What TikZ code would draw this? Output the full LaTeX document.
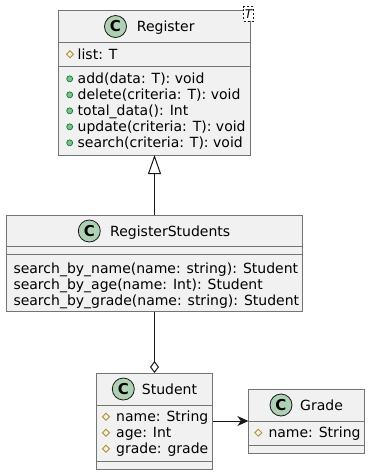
\documentclass[tikz,border=0pt]{standalone}
\usepackage{fontspec}
\setmainfont{DejaVu Sans}
\usetikzlibrary{arrows.meta}

\definecolor{boxfill}{HTML}{F1F1F1}
\definecolor{boxline}{HTML}{181818}
\definecolor{spotfill}{HTML}{ADD1B2}
\definecolor{protcol}{HTML}{B38D22}
\definecolor{pubfill}{HTML}{84BE84}
\definecolor{publine}{HTML}{038048}

\begin{document}
\begin{tikzpicture}[x=1pt, y=-1pt,
		classbox/.style={rectangle, draw=boxline!60, line width=0.7pt, fill=boxfill, inner sep=0pt, outer sep=0pt},
		divider/.style={draw=boxline!60, line width=0.7pt},
		spot/.style={circle, draw=boxline, line width=0.8pt, fill=spotfill, minimum size=22pt, inner sep=0pt, font=\fontsize{15}{15}\selectfont\bfseries},
		classname/.style={anchor=base west, inner sep=0pt, font=\fontsize{14}{16}\selectfont},
		member/.style={anchor=base west, inner sep=0pt, font=\fontsize{14}{16}\selectfont},
		typeparam/.style={rectangle, draw=boxline, dashed, dash pattern=on 2pt off 2pt, line width=0.5pt, fill=white, inner sep=0pt, minimum width=9.6pt, minimum height=14.3pt, font=\fontsize{12}{12}\selectfont\itshape},
		link/.style={draw=boxline, line width=1pt},
		prot/.pic={\draw[protcol, line width=0.8pt] (0,-3.5) -- (3.5,0) -- (0,3.5) -- (-3.5,0) -- cycle;},
		pub/.pic={\draw[publine, fill=pubfill, line width=0.7pt] (0,0) circle (3pt);}
	]
		\path[fill=white, use as bounding box] (0,0) rectangle (370,475);
		
		% Register
		\node[classbox, minimum width=192.4pt, minimum height=145pt] (reg) at (154.5,82.5) {};
		\draw[divider] (58.3,42.3) -- (250.7,42.3);
		\draw[divider] (58.3,66.3) -- (250.7,66.3);
		\node[spot] (regspot) at (115.5,26.5) {C};
		\node[classname] (regname) at (136.7,31.5) {Register};
		\node[typeparam] (regparam) at (248.5,13.8) {T};
		\pic at (70,54.3) {prot};
		\node[member] (reglist) at (77.5,59.3) {list: T};
		\pic at (69.7,78.8) {pub};
		\node[member] (regadd) at (77.5,83.8) {add(data: T): void};
		\pic at (69.7,94.8) {pub};
		\node[member] (regdelete) at (77.5,99.8) {delete(criteria: T): void};
		\pic at (69.7,110.8) {pub};
		\node[member] (regtotal) at (77.5,115.8) {total\_data(): Int};
		\pic at (69.7,126.8) {pub};
		\node[member] (regupdate) at (77.5,131.8) {update(criteria: T): void};
		\pic at (69.7,142.8) {pub};
		\node[member] (regsearch) at (77.5,147.8) {search(criteria: T): void};
		
		% RegisterStudents
		\node[classbox, minimum width=295.6pt, minimum height=96.7pt] (regstud) at (154.5,263.35) {};
		\draw[divider] (6.7,246.8) -- (302.3,246.8);
		\draw[divider] (6.7,254.7) -- (302.3,254.7);
		\node[spot] (regstudspot) at (89.3,231) {C};
		\node[classname] (regstudname) at (110,236) {RegisterStudents};
		\node[member] (byname) at (13.3,273.3) {search\_by\_name(name: string): Student};
		\node[member] (byage) at (13.3,289) {search\_by\_age(name: Int): Student};
		\node[member] (bygrade) at (13.3,305) {search\_by\_grade(name: string): Student};
		
		% Student
		\node[classbox, minimum width=116pt, minimum height=96pt] (stud) at (154.5,421) {};
		\draw[divider] (96.5,405) -- (212.5,405);
		\draw[divider] (96.5,461) -- (212.5,461);
		\node[spot] (studspot) at (123.3,389) {C};
		\node[classname] (studname) at (141.7,394) {Student};
		\pic at (106,416.7) {prot};
		\node[member] (studattrname) at (116,421.7) {name: String};
		\pic at (106,432.7) {prot};
		\node[member] (studattrage) at (116,437.7) {age: Int};
		\pic at (106,448.7) {prot};
		\node[member] (studattrgrade) at (116,453.7) {grade: grade};
		
		% Grade
		\node[classbox, minimum width=115.7pt, minimum height=64pt] (grade) at (306.2,421) {};
		\draw[divider] (248.35,421) -- (364.05,421);
		\draw[divider] (248.35,445.5) -- (364.05,445.5);
		\node[spot] (gradespot) at (281,405) {C};
		\node[classname] (gradename) at (300,410) {Grade};
		\pic at (258.3,432.7) {prot};
		\node[member] (gradeattrname) at (268.3,437.7) {name: String};
		
		% Relations
		\draw[link, -{Triangle[fill=white, length=19pt, width=13pt]}] (regstud.north) -- (reg.south);
		\draw[link, -{Diamond[fill=white, length=12pt, width=9pt]}] (regstud.south) -- (stud.north);
		\draw[link, -{Stealth[length=11pt, width=10pt, inset=3.5pt]}] (stud.east) -- (grade.west);
		
	\end{tikzpicture}
\end{document}
